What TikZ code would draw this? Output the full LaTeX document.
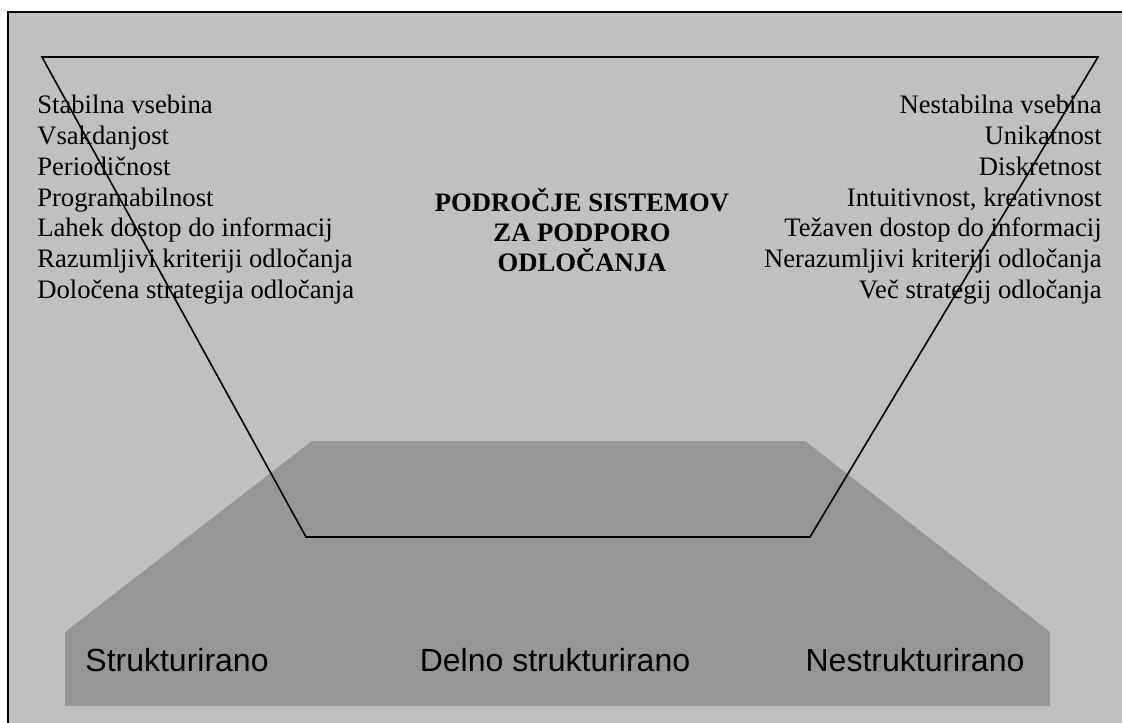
\documentclass[tikz,border=0pt]{standalone}
\usepackage{fontspec}
\setmainfont{Liberation Serif}
\setsansfont{Liberation Sans}
\definecolor{panelgray}{RGB}{192,192,192}
\definecolor{basegray}{RGB}{150,150,150}
\tikzset{
  item/.style={inner sep=0pt, font=\fontsize{20}{23}\selectfont},
  title/.style={inner sep=0pt, anchor=base, font=\fontsize{20}{23}\selectfont\bfseries},
  level/.style={inner sep=0pt, anchor=base, font=\fontsize{24}{28}\selectfont\sffamily},
}
\begin{document}
\begin{tikzpicture}[x=0.75pt, y=-0.75pt]
      \useasboundingbox (0,0) rectangle (1122,722);
      \begin{scope}
        \clip (0,0) rectangle (1122,722);
        \draw[fill=panelgray, line width=1.5pt] (8,12) rectangle (1140,740);
        \fill[basegray] (312,441) -- (805,441) -- (1050,632) -- (1050,706)
          -- (65,706) -- (65,632) -- cycle;
        \draw[line width=1.2pt, line join=miter]
          (42,57) -- (1098,57) -- (810,537) -- (306,537) -- cycle;
      \end{scope}
      \path
        (37,113) node[item, anchor=base west] (l1){Stabilna vsebina}
        (37,144) node[item, anchor=base west] (l2){Vsakdanjost}
        (37,175) node[item, anchor=base west] (l3){Periodičnost}
        (37,206) node[item, anchor=base west] (l4){Programabilnost}
        (37,236) node[item, anchor=base west] (l5){Lahek dostop do informacij}
        (37,267) node[item, anchor=base west] (l6){Razumljivi kriteriji odločanja}
        (37,298) node[item, anchor=base west] (l7){Določena strategija odločanja};
      \path
        (1102,113) node[item, anchor=base east] (r1){Nestabilna vsebina}
        (1102,144) node[item, anchor=base east] (r2){Unikatnost}
        (1102,175) node[item, anchor=base east] (r3){Diskretnost}
        (1102,206) node[item, anchor=base east] (r4){Intuitivnost, kreativnost}
        (1102,236) node[item, anchor=base east] (r5){Težaven dostop do informacij}
        (1102,267) node[item, anchor=base east] (r6){Nerazumljivi kriteriji odločanja}
        (1102,298) node[item, anchor=base east] (r7){Več strategij odločanja};
      \path
        (582,211) node[title] (t1){PODROČJE SISTEMOV}
        (582,241) node[title] (t2){ZA PODPORO}
        (582,271) node[title] (t3){ODLOČANJA};
      \path
        (177,671) node[level] (s1){Strukturirano}
        (555,671) node[level] (s2){Delno strukturirano}
        (915,671) node[level] (s3){Nestrukturirano};
    \end{tikzpicture}
\end{document}
